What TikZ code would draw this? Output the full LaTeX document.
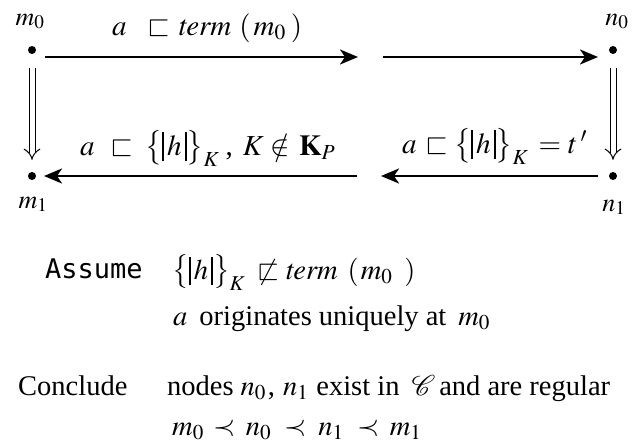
\documentclass[tikz,border=0pt]{standalone}
\usepackage{mathptmx}
\usepackage{amssymb}
\usepackage{fontspec}
\setmainfont{Liberation Serif}
\newfontfamily\asmfont{DejaVu Sans Mono}
\usetikzlibrary{arrows.meta}
\newcommand{\thbar}{\rule[-0.22em]{1.8pt}{1.0em}}
\newcommand{\enc}[1]{\bigl\{\thbar\mkern2mu#1\mkern2mu\thbar\bigr\}}
\tikzset{
  dot/.style={circle,fill=black,inner sep=0pt,minimum size=8pt},
  lbl/.style={inner sep=0pt,anchor=base,font=\fontsize{26}{30}\selectfont},
  elbl/.style={inner sep=0pt,anchor=base west,font=\fontsize{29}{33}\selectfont},
  txt/.style={inner sep=0pt,anchor=base west,font=\fontsize{28.5}{33}\selectfont},
  arr/.style={line width=2.6pt,-{Stealth[length=18pt,width=15pt,inset=5pt]}},
  darr/.style={double,double distance=5pt,line width=1pt,-{Implies}}
}
\begin{document}
\begin{tikzpicture}[x=1pt,y=-1pt]
\useasboundingbox (0,0) rectangle (637,447);
% states
\node[dot] (m0) at (32,50) {};
\node[dot] (n0) at (613,50) {};
\node[dot] (m1) at (32,176) {};
\node[dot] (n1) at (613,176) {};
\node[lbl] (lm0) at (30,25) {$m_0$};
\node[lbl] (ln0) at (617,25) {$n_0$};
\node[lbl] (lm1) at (33,208) {$m_1$};
\node[lbl] (ln1) at (614,211) {$n_1$};
% top arrows
\coordinate (a1s) at (45,57);
\coordinate (a1e) at (358,57);
\coordinate (a2s) at (383,57);
\coordinate (a2e) at (598,57);
\draw[arr] (a1s) -- (a1e);
\draw[arr] (a2s) -- (a2e);
% bottom arrows
\coordinate (b1s) at (357,176);
\coordinate (b1e) at (44,176);
\coordinate (b2s) at (598,176);
\coordinate (b2e) at (381,176);
\draw[arr] (b1s) -- (b1e);
\draw[arr] (b2s) -- (b2e);
% vertical double arrows
\draw[darr,shorten <=14pt,shorten >=12pt] (m0) -- (m1);
\draw[darr,shorten <=14pt,shorten >=12pt] (n0) -- (n1);
% edge labels
\node[elbl] (e1) at (112,35) {$a$\hspace{21pt}$\sqsubset$\hspace{8pt}$\mathit{term}$\hspace{8pt}$($\hspace{3pt}$m_0$\hspace{5pt}$)$};
\node[elbl] (e2) at (80,155) {$a$\hspace{16pt}$\sqsubset$\hspace{12pt}$\enc{h}_K$\hspace{6pt},\hspace{10pt}$K$\hspace{7pt}$\notin$\hspace{9pt}$\mathbf{K}_P$};
\node[elbl] (e3) at (402,153) {$a$\hspace{9pt}$\sqsubset$\hspace{6pt}$\enc{h}_K$\hspace{10pt}$=$\hspace{7pt}$t\,'$};
% assumptions
\node[inner sep=0pt,anchor=base west,font=\asmfont\fontsize{27}{31}\selectfont] (as) at (45,278) {Assume};
\node[txt] (as1) at (172,279) {$\enc{h}_K$\hspace{12pt}$\not\sqsubset$\hspace{6pt}$\mathit{term}$\hspace{10pt}$($\hspace{2pt}$m_0$\hspace{12pt}$)$};
\node[txt] (as2) at (173,325) {$a$\hspace{12pt}originates uniquely at\hspace{12pt}$m_0$};
\node[txt] (co) at (18,395) {Conclude};
\node[txt] (co1) at (167,395) {nodes\hspace{7pt}$n_0$\hspace{2pt},\hspace{8pt}$n_1$\hspace{8pt}exist in\hspace{12pt}$\mathcal{C}$\hspace{4pt}and are regular};
\node[txt] (co2) at (172,435) {$m_0$\hspace{10pt}$\prec$\hspace{10pt}$n_0$\hspace{13pt}$\prec$\hspace{12pt}$n_1$\hspace{14pt}$\prec$\hspace{10pt}$m_1$};
\end{tikzpicture}
\end{document}
